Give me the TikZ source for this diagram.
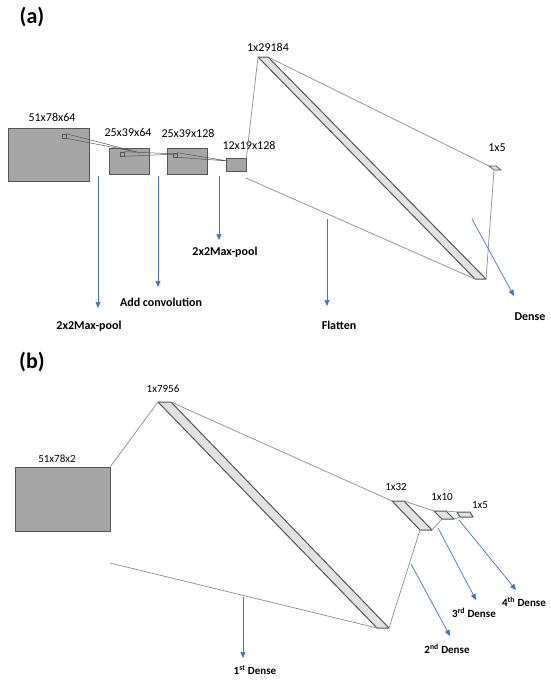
\documentclass[tikz,border=0pt]{standalone}
\usepackage{fontspec}
\setmainfont{Carlito}
\usetikzlibrary{arrows.meta}
\definecolor{boxfill}{HTML}{A6A6A6}
\definecolor{boxdraw}{HTML}{555555}
\definecolor{barfill}{HTML}{E2E2E2}
\definecolor{linegray}{HTML}{8C8C8C}
\definecolor{arrowblue}{HTML}{4472C4}
\tikzset{
  gbox/.style={draw=boxdraw, fill=boxfill, line width=0.9pt, inner sep=0pt},
  sq/.style={draw=boxdraw, fill=boxfill, line width=0.6pt, inner sep=0pt, minimum size=4pt},
  bar/.style={draw=boxdraw, fill=barfill, line width=1pt, line join=round},
  conn/.style={draw=linegray, line width=0.7pt},
  wedge/.style={draw=boxdraw, line width=0.5pt},
  barrow/.style={draw=arrowblue, line width=0.7pt, -{Triangle[length=6pt,width=5pt]}},
  dimlbl/.style={font=\fontsize{12}{14}\selectfont, inner sep=0pt},
  dimlblb/.style={font=\fontsize{11}{13}\selectfont, inner sep=0pt},
  oplbl/.style={font=\bfseries\fontsize{12}{14}\selectfont, inner sep=0pt},
  oplblb/.style={font=\bfseries\fontsize{11}{13}\selectfont, inner sep=0pt},
  panel/.style={font=\bfseries\fontsize{22}{26}\selectfont, inner sep=0pt}
}
\begin{document}
\begin{tikzpicture}[x=1pt,y=-1pt]
\useasboundingbox (0,0) rectangle (550,680);

%%%%%%%%%%%%%%%% (a)
\node[panel] (pa) at (32,17) {(a)};

% feature maps
\node[gbox, minimum width=81pt, minimum height=53pt] (m1) at (48.5,154.5) {};
\node[gbox, minimum width=40pt, minimum height=26pt] (m2) at (129,161) {};
\node[gbox, minimum width=40pt, minimum height=26pt] (m3) at (187,161) {};
\node[gbox, minimum width=20pt, minimum height=13pt] (m4) at (236,164.5) {};

\node[sq] (s1) at (64,136) {};
\node[sq] (s2) at (122,154) {};
\node[sq] (s3) at (175,155) {};
\coordinate (t1) at (137,152);
\coordinate (t2) at (178,154);
\coordinate (t3) at (228,161);
\draw[wedge] (s1.north east) -- (t1) (s1.south east) -- (t1);
\draw[wedge] (s2.north east) -- (t2) (s2.south east) -- (t2);
\draw[wedge] (s3.north east) -- (t3) (s3.south east) -- (t3);

\node[dimlbl] (l1) at (52,117) {51x78x64};
\node[dimlbl] (l2) at (128,132) {25x39x64};
\node[dimlbl] (l3) at (188,133) {25x39x128};
\node[dimlbl] (l4) at (249,145) {12x19x128};

% flatten bar
\coordinate (fa1) at (258,57);
\coordinate (fa2) at (268,57);
\coordinate (fa3) at (486,279);
\coordinate (fa4) at (475,279);
\draw[bar] (fa1) -- (fa2) -- (fa3) -- (fa4) -- cycle;
\node[dimlbl] (l5) at (268,47) {1x29184};

% 1x5 output
\coordinate (da1) at (489,166);
\coordinate (da2) at (496,166);
\coordinate (da3) at (501,170);
\coordinate (da4) at (494,170);
\draw[bar, line width=0.7pt] (da1) -- (da2) -- (da3) -- (da4) -- cycle;
\node[dimlbl] (l6) at (497,148) {1x5};

% connectors
\coordinate (fa0) at (246,178);
\draw[conn] (m4.north east) -- (fa1);
\draw[conn] (fa2) -- (da1);
\draw[conn] (da4) -- (fa3);
\draw[conn] (fa0) -- (fa4);

% operation arrows
\coordinate (oa1s) at (98,176);   \coordinate (oa1e) at (98,308);
\coordinate (oa2s) at (158,176);  \coordinate (oa2e) at (158,287);
\coordinate (oa3s) at (219,176);  \coordinate (oa3e) at (219,240);
\coordinate (oa4s) at (327,219);  \coordinate (oa4e) at (327,306);
\coordinate (oa5s) at (472,219);  \coordinate (oa5e) at (514,296);
\draw[barrow] (oa1s) -- (oa1e);
\draw[barrow] (oa2s) -- (oa2e);
\draw[barrow] (oa3s) -- (oa3e);
\draw[barrow] (oa4s) -- (oa4e);
\draw[barrow] (oa5s) -- (oa5e);

\node[oplbl] (o1) at (89,326) {2x2Max-pool};
\node[oplbl] (o2) at (161,302) {Add convolution};
\node[oplbl] (o3) at (225,252) {2x2Max-pool};
\node[oplbl] (o4) at (339,325) {Flatten};
\node[oplbl] (o5) at (530,317) {Dense};

%%%%%%%%%%%%%%%% (b)
\node[panel] (pb) at (32,362) {(b)};

\node[gbox, minimum width=95pt, minimum height=64pt] (bm) at (62.5,499) {};
\node[dimlblb] (bl1) at (57,459) {51x78x2};

% 1x7956 bar
\coordinate (b1a) at (158,402);
\coordinate (b1b) at (171,402);
\coordinate (b1c) at (389,628);
\coordinate (b1d) at (377,628);
\draw[bar] (b1a) -- (b1b) -- (b1c) -- (b1d) -- cycle;
\node[dimlblb] (bl2) at (163,389) {1x7956};

% 1x32
\coordinate (b2a) at (392,501);
\coordinate (b2b) at (404,501);
\coordinate (b2c) at (432,530);
\coordinate (b2d) at (420,530);
\draw[bar] (b2a) -- (b2b) -- (b2c) -- (b2d) -- cycle;
\node[dimlblb] (bl3) at (396,487) {1x32};

% 1x10
\coordinate (b3a) at (434,511);
\coordinate (b3b) at (446,511);
\coordinate (b3c) at (454,519);
\coordinate (b3d) at (442,519);
\draw[bar] (b3a) -- (b3b) -- (b3c) -- (b3d) -- cycle;
\node[dimlblb] (bl4) at (442,497) {1x10};

% 1x5
\coordinate (b4a) at (457,512);
\coordinate (b4b) at (470,512);
\coordinate (b4c) at (473,517);
\coordinate (b4d) at (460,517);
\draw[bar] (b4a) -- (b4b) -- (b4c) -- (b4d) -- cycle;
\node[dimlblb] (bl5) at (480,505) {1x5};

% connectors
\coordinate (b0) at (110,563);
\draw[conn] (bm.north east) -- (b1a);
\draw[conn] (b1b) -- (b2a);
\draw[conn] (b2d) -- (b1c);
\draw[conn] (b0) -- (b1d);
\draw[conn] (b2b) -- (b3a);
\draw[conn] (b3b) -- (b4a);
\draw[conn] (b3d) -- (b2c);
\draw[conn] (b4d) -- (b3c);

% dense arrows
\coordinate (ob1s) at (243,597);  \coordinate (ob1e) at (243,658);
\coordinate (ob2s) at (411,564);  \coordinate (ob2e) at (450,636);
\coordinate (ob3s) at (438,528);  \coordinate (ob3e) at (476,600);
\coordinate (ob4s) at (459,520);  \coordinate (ob4e) at (516,590);
\draw[barrow] (ob1s) -- (ob1e);
\draw[barrow] (ob2s) -- (ob2e);
\draw[barrow] (ob3s) -- (ob3e);
\draw[barrow] (ob4s) -- (ob4e);

\node[oplblb] (d1) at (255,670) {1\textsuperscript{st} Dense};
\node[oplblb] (d2) at (447,649) {2\textsuperscript{nd} Dense};
\node[oplblb] (d3) at (474,613) {3\textsuperscript{rd} Dense};
\node[oplblb] (d4) at (524,602) {4\textsuperscript{th} Dense};
\end{tikzpicture}
\end{document}
